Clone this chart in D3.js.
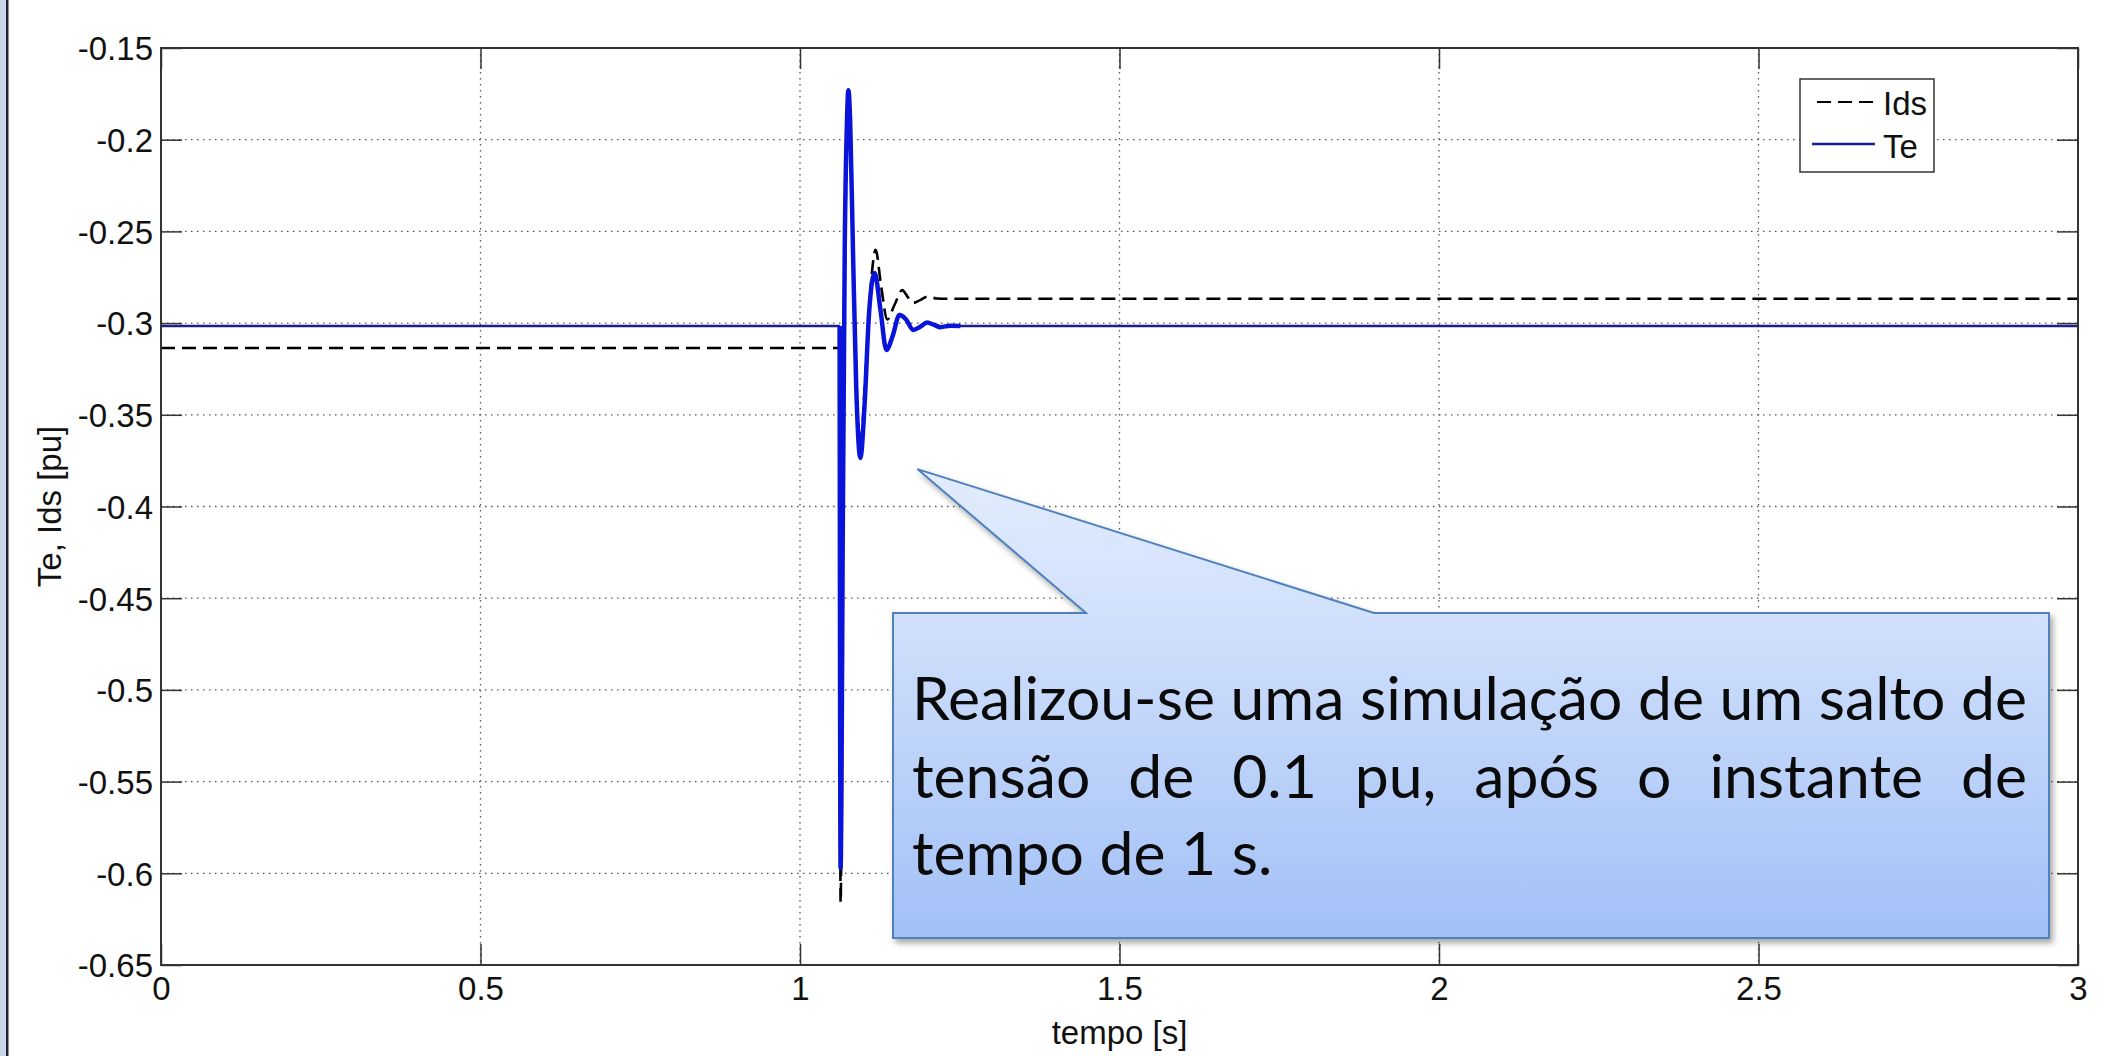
<html>
<head>
<title>Te, Ids - salto de tensao</title>
<script src="https://d3js.org/d3.v7.min.js"></script>
</head>
<style>
body { margin: 0; background: white; }
svg { display: block; }
.tick text { font-family: "Liberation Sans", Arial, sans-serif; font-size: 33px; fill: #111; }
.tick line { stroke: #333; stroke-width: 1.5; }
</style>
<body>
<svg id="chart" width="2120" height="1056"></svg>

<script>
// ticks
var xTicks = [0, 0.5, 1, 1.5, 2, 2.5, 3];
var xTickLabels = ["0", "0.5", "1", "1.5", "2", "2.5", "3"];
var yTicks = [-0.65, -0.6, -0.55, -0.5, -0.45, -0.4, -0.35, -0.3, -0.25, -0.2, -0.15];
var yTickLabels = ["-0.65", "-0.6", "-0.55", "-0.5", "-0.45", "-0.4", "-0.35", "-0.3", "-0.25", "-0.2", "-0.15"];

// Te [pu] vs tempo [s]
var teTime  = [0, 1.062, 1.0635, 1.0648, 1.0668, 1.070, 1.0735, 1.0757, 1.0785, 1.083, 1.088, 1.0945, 1.101, 1.108, 1.1169, 1.126, 1.1352, 1.145, 1.1556, 1.166, 1.177, 1.188, 1.1989, 1.21, 1.2197, 1.235, 1.251, 3];
var teValue = [-0.3016, -0.3016, -0.597, -0.56, -0.42, -0.26, -0.19, -0.173, -0.19, -0.262, -0.335, -0.3735, -0.345, -0.295, -0.2727, -0.293, -0.3147, -0.307, -0.2956, -0.298, -0.3037, -0.302, -0.2997, -0.301, -0.3022, -0.3014, -0.3016, -0.3016];

// Ids [pu] vs tempo [s]
var idsTime  = [0, 1.0584, 1.0615, 1.0635, 1.065, 1.067, 1.0705, 1.074, 1.076, 1.079, 1.0835, 1.0885, 1.095, 1.102, 1.11, 1.1184, 1.127, 1.1365, 1.148, 1.16, 1.169, 1.177, 1.188, 1.199, 1.215, 1.23, 3];
var idsValue = [-0.3136, -0.3136, -0.3136, -0.616, -0.57, -0.43, -0.265, -0.195, -0.18, -0.198, -0.265, -0.335, -0.365, -0.33, -0.283, -0.2601, -0.28, -0.298, -0.29, -0.282, -0.286, -0.289, -0.2875, -0.2856, -0.2866, -0.2867, -0.2867];

var legendNames = ["Ids", "Te"];
var calloutLines = ["Realizou-se uma simulação de um salto de", "tensão de 0.1 pu, após o instante de", "tempo de 1 s."];
// the callout arrow points at (tempo, valor)
var calloutTip = [1.1837, -0.3796];

var plotL = 161, plotR = 2078, plotT = 48, plotB = 965;
var svg = d3.select("#chart");

var xScale = d3.scaleLinear().domain([0, 3]).range([plotL, plotR]);
var yScale = d3.scaleLinear().domain([-0.65, -0.15]).range([plotB, plotT]);

// slide frame on the left
svg.append("rect").attr("x", 0).attr("y", 0).attr("width", 6).attr("height", 1056).attr("fill", "#c8d7e8");
svg.append("rect").attr("x", 6).attr("y", 0).attr("width", 2.5).attr("height", 1056).attr("fill", "#1b2333");

// dotted grid
var grid = svg.append("g");
grid.selectAll("line.gx").data(xTicks.slice(1, -1)).enter().append("line")
	.attr("x1", function(d){ return xScale(d); })
	.attr("x2", function(d){ return xScale(d); })
	.attr("y1", plotT).attr("y2", plotB)
	.attr("stroke", "#555").attr("stroke-width", 1.3).attr("stroke-dasharray", "1.5,4.5");
grid.selectAll("line.gy").data(yTicks.slice(1, -1)).enter().append("line")
	.attr("y1", function(d){ return yScale(d); })
	.attr("y2", function(d){ return yScale(d); })
	.attr("x1", plotL).attr("x2", plotR)
	.attr("stroke", "#555").attr("stroke-width", 1.3).attr("stroke-dasharray", "1.5,4.5");

var lineGen = d3.line()
	.x(function(d){ return xScale(d.t); })
	.y(function(d){ return yScale(d.v); })
	.curve(d3.curveMonotoneX);

var idsData = idsTime.map(function(t, i){ return {t: t, v: idsValue[i]}; });
var teData = teTime.map(function(t, i){ return {t: t, v: teValue[i]}; });

svg.append("path").attr("d", lineGen(idsData))
	.attr("fill", "none").attr("stroke", "#000").attr("stroke-width", 2.6)
	.attr("stroke-dasharray", "14,7");

svg.append("path").attr("d", lineGen(teData))
	.attr("fill", "none").attr("stroke", "#1e1e8c").attr("stroke-width", 2.4);
// transient part looks brighter / thicker
svg.append("path").attr("d", lineGen(teData.filter(function(d){ return d.t > 1.05 && d.t < 1.26; })))
	.attr("fill", "none").attr("stroke", "#0a14d8").attr("stroke-width", 4.5)
	.attr("stroke-linejoin", "round");

// axes, ticks inside on all four sides
svg.append("g").attr("transform", "translate(0," + plotB + ")")
	.call(d3.axisBottom(xScale).tickValues(xTicks).tickFormat(function(d, i){ return xTickLabels[i]; })
		.tickSizeInner(-21).tickSizeOuter(0).tickPadding(12))
	.call(function(g){ g.select(".domain").remove(); });
svg.append("g").attr("transform", "translate(" + plotL + ",0)")
	.call(d3.axisLeft(yScale).tickValues(yTicks).tickFormat(function(d, i){ return yTickLabels[i]; })
		.tickSizeInner(-21).tickSizeOuter(0).tickPadding(8))
	.call(function(g){ g.select(".domain").remove(); g.selectAll("text").attr("dy", "0.36em"); });
svg.append("g").attr("transform", "translate(0," + plotT + ")")
	.call(d3.axisTop(xScale).tickValues(xTicks).tickFormat("").tickSizeInner(-21).tickSizeOuter(0))
	.call(function(g){ g.select(".domain").remove(); });
svg.append("g").attr("transform", "translate(" + plotR + ",0)")
	.call(d3.axisRight(yScale).tickValues(yTicks).tickFormat("").tickSizeInner(-21).tickSizeOuter(0))
	.call(function(g){ g.select(".domain").remove(); });

svg.append("rect").attr("x", plotL).attr("y", plotT).attr("width", plotR - plotL).attr("height", plotB - plotT)
	.attr("fill", "none").attr("stroke", "#333").attr("stroke-width", 2);

// axis labels
svg.append("text").attr("x", (plotL + plotR) / 2).attr("y", 1044)
	.attr("text-anchor", "middle").attr("font-family", "Liberation Sans, Arial, sans-serif")
	.attr("font-size", 33).attr("fill", "#111").text("tempo [s]");
svg.append("text").attr("transform", "translate(61," + (plotT + plotB) / 2 + ") rotate(-90)")
	.attr("text-anchor", "middle").attr("font-family", "Liberation Sans, Arial, sans-serif")
	.attr("font-size", 33).attr("fill", "#111").text("Te, Ids [pu]");

// legend
var lg = svg.append("g");
lg.append("rect").attr("x", 1800).attr("y", 79).attr("width", 134).attr("height", 93)
	.attr("fill", "white").attr("stroke", "#333").attr("stroke-width", 1.5);
lg.append("line").attr("x1", 1817).attr("x2", 1875).attr("y1", 102).attr("y2", 102)
	.attr("stroke", "#000").attr("stroke-width", 2.2).attr("stroke-dasharray", "14,7");
lg.append("line").attr("x1", 1812).attr("x2", 1875).attr("y1", 144).attr("y2", 144)
	.attr("stroke", "#1e1e8c").attr("stroke-width", 2.4);
lg.selectAll("text").data(legendNames).enter().append("text")
	.attr("x", 1883).attr("y", function(d, i){ return i == 0 ? 115 : 158; })
	.attr("font-family", "Liberation Sans, Arial, sans-serif").attr("font-size", 33).attr("fill", "#111")
	.text(function(d){ return d; });

// callout
var defs = svg.append("defs");
var grad = defs.append("linearGradient").attr("id", "callGrad")
	.attr("x1", 0).attr("y1", 0).attr("x2", 0).attr("y2", 1);
grad.append("stop").attr("offset", "0").attr("stop-color", "#e2ecfd");
grad.append("stop").attr("offset", "0.3").attr("stop-color", "#d2e1fc");
grad.append("stop").attr("offset", "1").attr("stop-color", "#a2c0f6");
var shadow = defs.append("filter").attr("id", "shadow").attr("x", "-5%").attr("y", "-5%").attr("width", "115%").attr("height", "120%");
shadow.append("feDropShadow").attr("dx", 3).attr("dy", 4).attr("stdDeviation", 3)
	.attr("flood-color", "#000").attr("flood-opacity", 0.35);

var bx0 = 893, bx1 = 2049, by0 = 613, by1 = 938;
var tipX = xScale(calloutTip[0]), tipY = yScale(calloutTip[1]);
var callPath = "M" + bx0 + "," + by0 + " L1086," + by0 + " L" + tipX + "," + tipY + " L1374," + by0 +
	" L" + bx1 + "," + by0 + " L" + bx1 + "," + by1 + " L" + bx0 + "," + by1 + " Z";
svg.append("path").attr("d", callPath)
	.attr("fill", "url(#callGrad)").attr("stroke", "#4f81bd").attr("stroke-width", 2)
	.attr("filter", "url(#shadow)");

var tf = "Lato, 'Open Sans', sans-serif";
var probe = svg.append("text").attr("font-family", tf).attr("font-size", 60).text(calloutLines[0]);
var fs = 60 * 1115 / probe.node().getComputedTextLength();
probe.remove();

var textL = 912, textR = 2027;
var baselines = [720, 798, 875];
var tg = svg.append("g").attr("font-family", tf).attr("font-size", fs).attr("fill", "#0a0a0a");
calloutLines.forEach(function(line, i){
	if (i == calloutLines.length - 1) {
		tg.append("text").attr("x", textL).attr("y", baselines[i]).text(line);
		return;
	}
	var words = line.split(" ");
	var widths = words.map(function(w){
		var t = tg.append("text").text(w);
		var wd = t.node().getComputedTextLength();
		t.remove();
		return wd;
	});
	var gap = (textR - textL - d3.sum(widths)) / (words.length - 1);
	var x = textL;
	words.forEach(function(w, j){
		tg.append("text").attr("x", x).attr("y", baselines[i]).text(w);
		x += widths[j] + gap;
	});
});
</script>
</body>
</html>
